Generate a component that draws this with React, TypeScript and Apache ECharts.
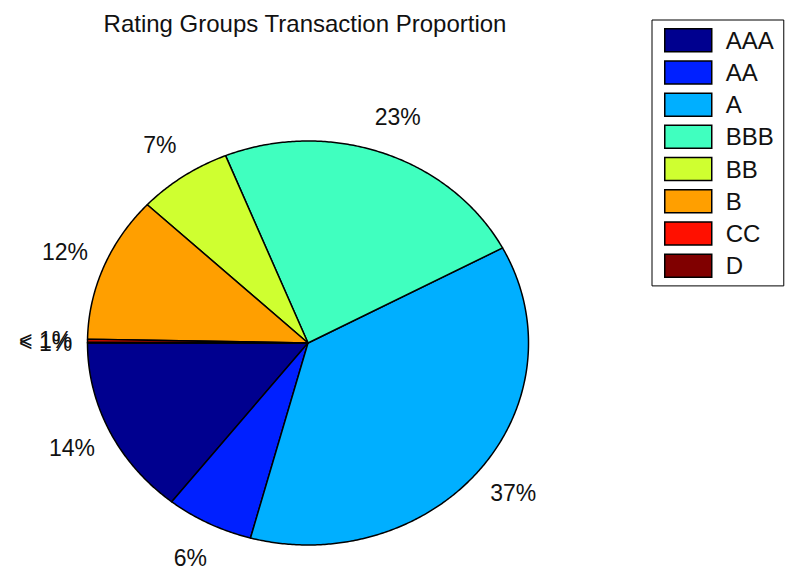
import React, { useEffect, useRef } from "react";
import * as echarts from "echarts";

// ---- data ----
const categories = ["AAA", "AA", "A", "BBB", "BB", "B", "CC", "D"];
const shares = [14.4, 6.4, 37.0, 23.3, 6.9, 11.7, 0.25, 0.05];
const sliceColors = ["#00008F", "#0020FF", "#00AFFF", "#40FFBF", "#CFFF30", "#FF9F00", "#FF1000", "#800000"];
const titleText = "Rating Groups Transaction Proportion";

// ---- layout ----
const CX = 308;
const CY = 343;
const RX = 220.5;
const RY = 202;
const LABEL_K = 1.19;
const START_DEG = 180;
const FONT = "'Liberation Sans', Arial, sans-serif";

const total = shares.reduce((a, b) => a + b, 0);

function pctLabel(v: number): string {
  const p = (v / total) * 100;
  return p < 1 ? "< 1%" : Math.round(p) + "%";
}

function makeRenderItem(idx: number) {
  return (params: any, api: any) => {
    const v = api.value(0) as number;
    const before = shares.slice(0, idx).reduce((a, b) => a + b, 0);
    const a0 = START_DEG + (before / total) * 360;
    const a1 = a0 + (v / total) * 360;
    const pts: number[][] = [[CX, CY]];
    const step = 0.5;
    for (let a = a0; a < a1; a += step) {
      const r = (a * Math.PI) / 180;
      pts.push([CX + RX * Math.cos(r), CY - RY * Math.sin(r)]);
    }
    const re = (a1 * Math.PI) / 180;
    pts.push([CX + RX * Math.cos(re), CY - RY * Math.sin(re)]);
    const mid = (((a0 + a1) / 2) * Math.PI) / 180;
    const lx = CX + LABEL_K * RX * Math.cos(mid);
    const ly = CY - LABEL_K * RY * Math.sin(mid);
    return {
      type: "group",
      children: [
        {
          type: "polygon",
          shape: { points: pts },
          style: { fill: sliceColors[idx], stroke: "#000", lineWidth: 1.5, lineJoin: "round" },
        },
        {
          type: "text",
          z2: 10,
          style: {
            text: pctLabel(v),
            x: lx,
            y: ly,
            align: "center",
            verticalAlign: "middle",
            fill: "#111",
            fontSize: 23,
            fontFamily: FONT,
          },
        },
      ],
    };
  };
}

export default function App() {
  const ref = useRef<HTMLDivElement>(null);
  useEffect(() => {
    if (!ref.current) return;
    const chart = echarts.init(ref.current, undefined, { renderer: "svg" });
    const series = categories.map((name, i) => ({
      type: "custom",
      name,
      coordinateSystem: "none",
      itemStyle: { color: sliceColors[i], borderColor: "#000", borderWidth: 1.5 },
      data: [[shares[i]]],
      renderItem: makeRenderItem(i),
      silent: true,
    }));
    chart.setOption({
      animation: false,
      backgroundColor: "#fff",
      title: {
        text: titleText,
        left: 305,
        top: 11,
        textAlign: "center",
        padding: 0,
        textStyle: { fontSize: 24, fontWeight: "normal", color: "#111", fontFamily: FONT },
      },
      legend: {
        data: categories,
        orient: "vertical",
        left: 652,
        top: 20,
        padding: [8, 10, 8, 12],
        itemWidth: 47,
        itemHeight: 23,
        itemGap: 7.7,
        icon: "rect",
        borderColor: "#000",
        borderWidth: 1,
        selectedMode: false,
        itemStyle: { borderColor: "#000", borderWidth: 1.5 },
        textStyle: { fontSize: 24, color: "#111", fontFamily: FONT, padding: [0, 0, 0, 9] },
      },
      series,
    });
    return () => chart.dispose();
  }, []);
  return (
    <div
      ref={ref}
      style={{ position: "fixed", left: 0, top: 0, width: 787, height: 571, background: "#fff" }}
    />
  );
}
